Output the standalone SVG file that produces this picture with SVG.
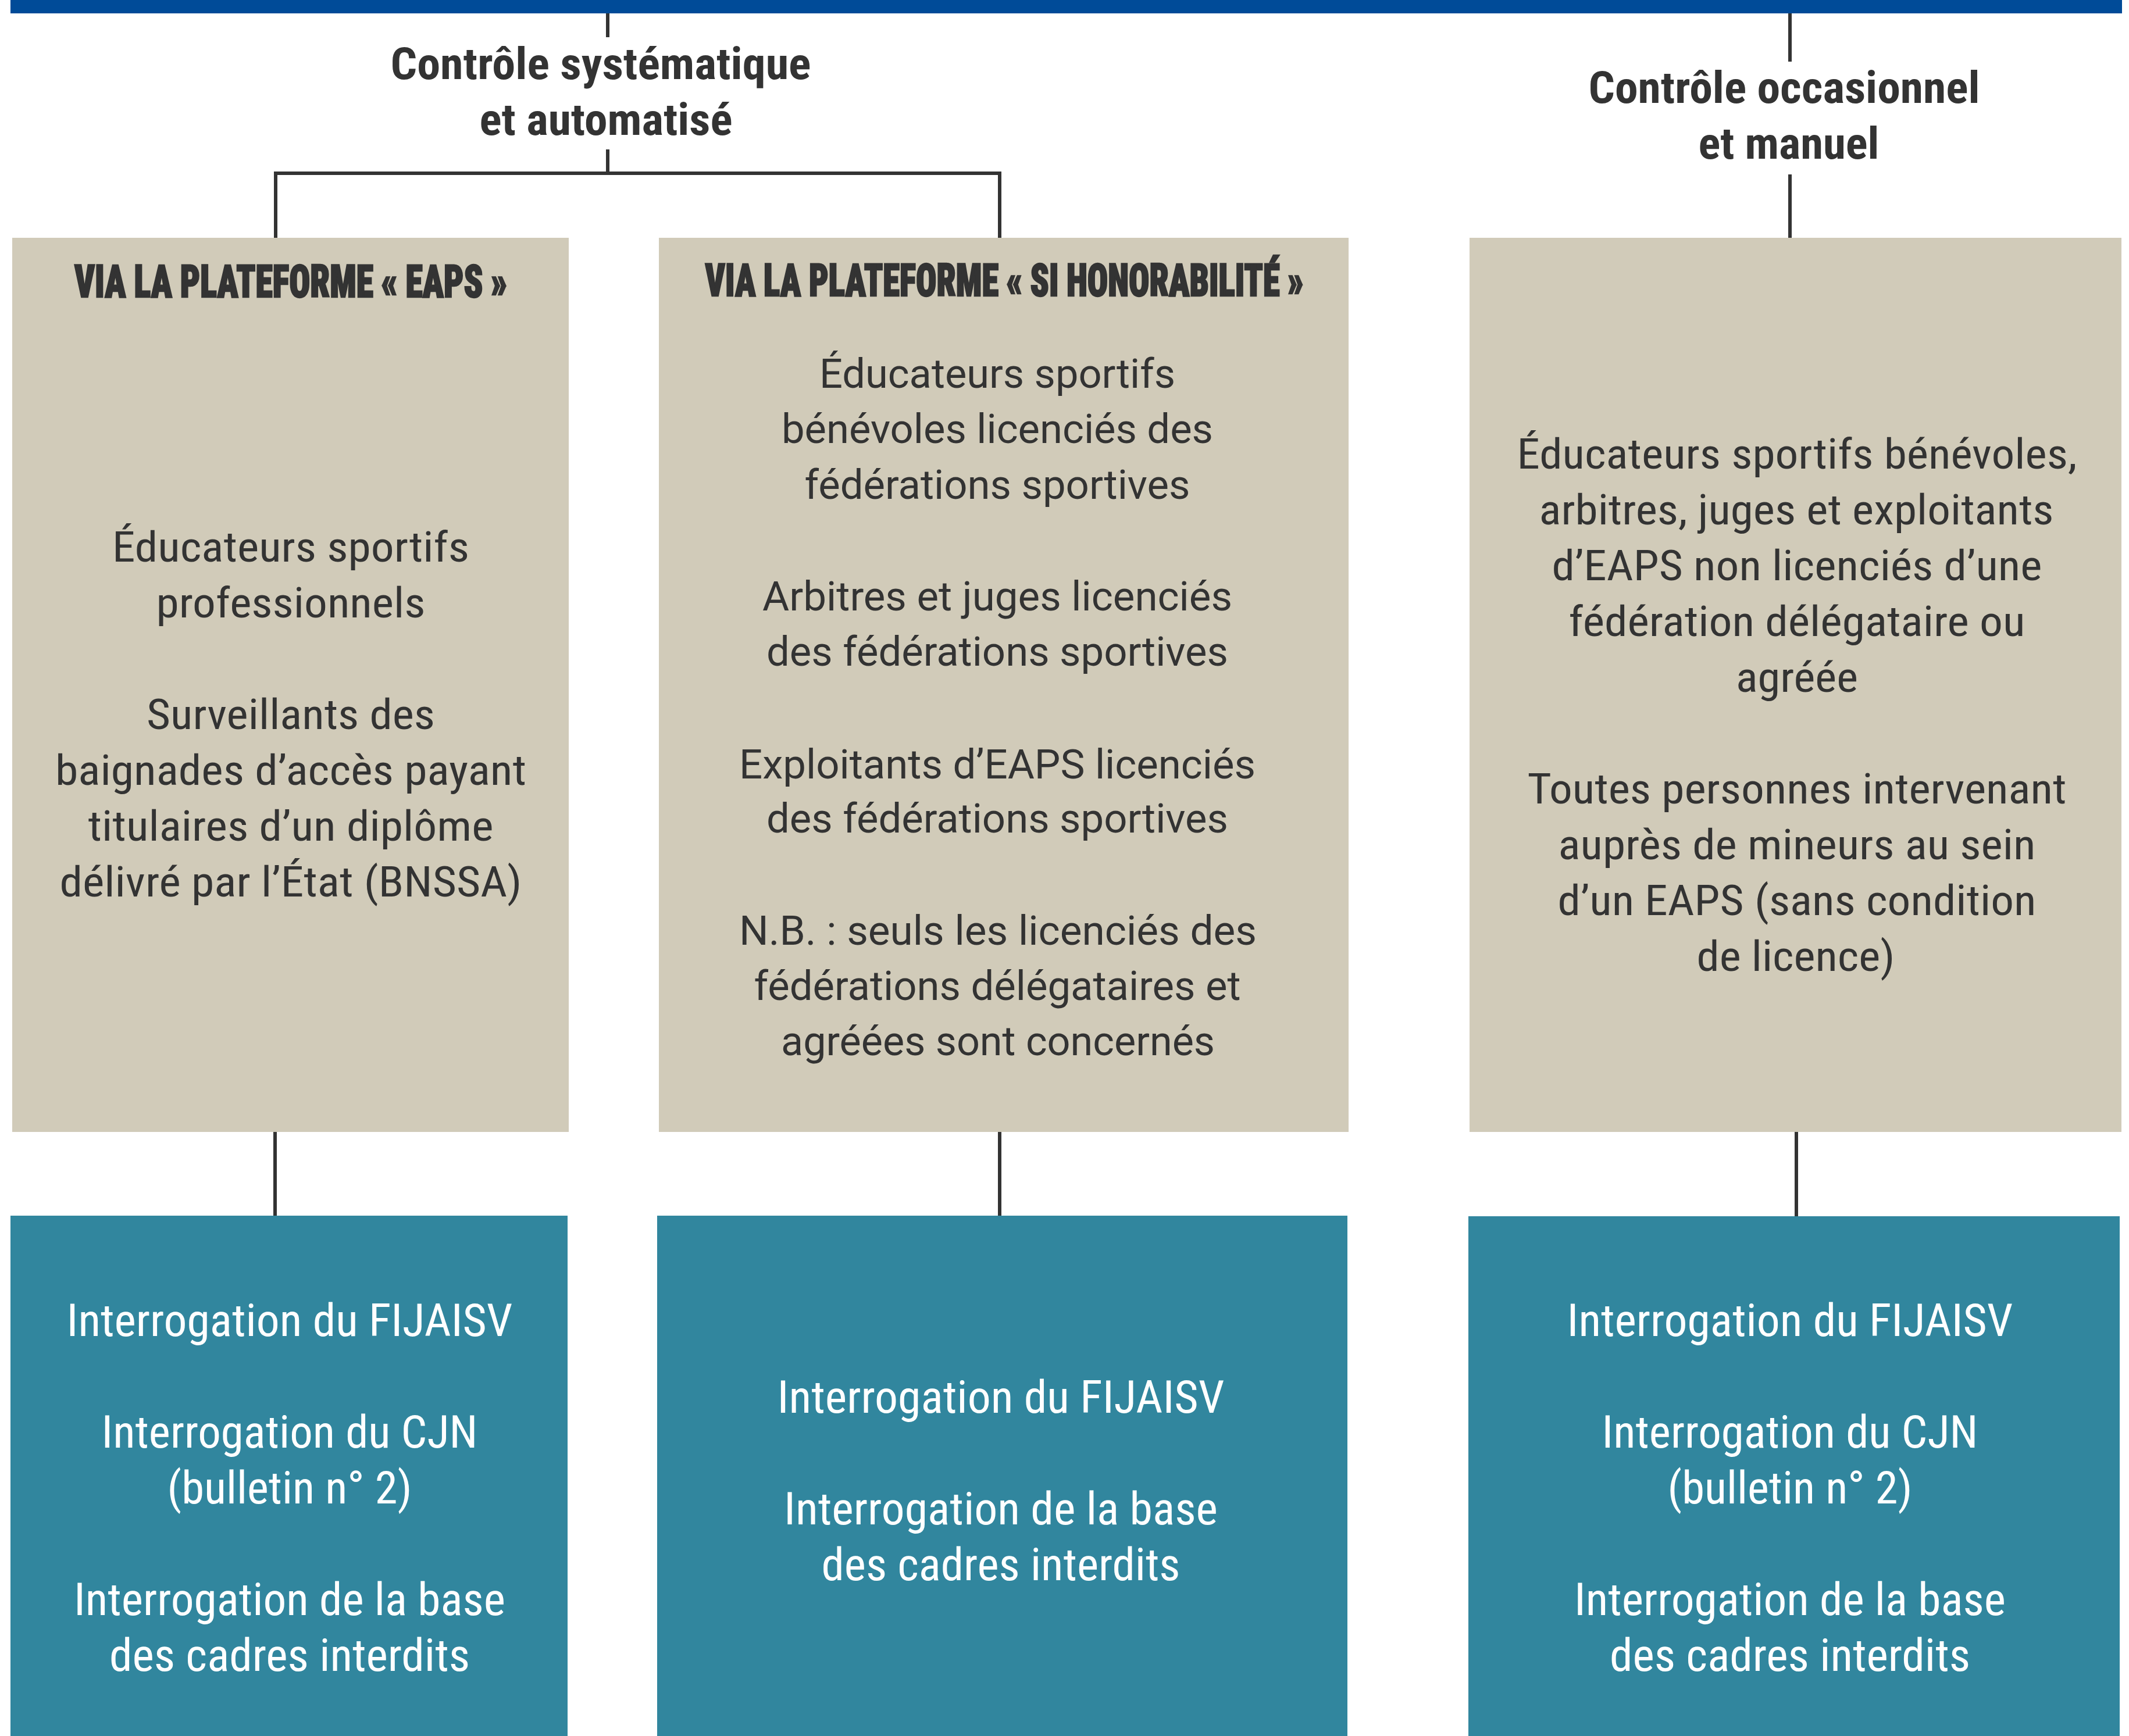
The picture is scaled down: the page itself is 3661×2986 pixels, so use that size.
<svg xmlns="http://www.w3.org/2000/svg" width="3661" height="2986" viewBox="0 0 3661 2986">
<style>
.bg{fill:#ffffff}
.bar{fill:#004B98}
.beige{fill:#D1CBB9}
.teal{fill:#31869E}
.ln{stroke:#333333;stroke-width:6;fill:none;stroke-linecap:butt}
.title{font-family:"Roboto Condensed",Roboto,"Liberation Sans",sans-serif;font-weight:700;font-size:76px;fill:#333333;text-anchor:middle}
.head{font-family:"Roboto Condensed",Roboto,"Liberation Sans",sans-serif;font-weight:900;font-size:77px;fill:#333333;stroke:#333333;stroke-width:2.5;text-anchor:middle}
.body{font-family:"Roboto Condensed",Roboto,"Liberation Sans",sans-serif;font-weight:400;font-size:73px;fill:#333333;text-anchor:middle}
.body2{font-family:Roboto,"Liberation Sans",sans-serif;font-weight:400;font-size:71px;fill:#333333;text-anchor:middle}
.white{font-family:"Roboto Condensed",Roboto,"Liberation Sans",sans-serif;font-weight:400;font-size:77px;fill:#ffffff;text-anchor:middle}
</style>
<rect class="bg" x="0" y="0" width="3661" height="2986"/>
<rect class="bar" x="18" y="0" width="3631" height="23"/>

<g id="connectors">
<line class="ln" x1="1045" y1="23" x2="1045" y2="64"/>
<line class="ln" x1="1045" y1="257" x2="1045" y2="298"/>
<path class="ln" d="M474,409 V298 H1719 V409" stroke-width="7"/>
<line class="ln" x1="3078" y1="23" x2="3078" y2="106"/>
<line class="ln" x1="3078" y1="300" x2="3078" y2="411"/>
<line class="ln" x1="473" y1="1947" x2="473" y2="2092"/>
<line class="ln" x1="1719" y1="1947" x2="1719" y2="2092"/>
<line class="ln" x1="3089" y1="1947" x2="3089" y2="2092"/>
</g>

<g id="title-systematique">
<text class="title" x="1033" y="136" textLength="723" lengthAdjust="spacingAndGlyphs">Contrôle systématique</text>
<text class="title" x="1042" y="232" textLength="435" lengthAdjust="spacingAndGlyphs">et automatisé</text>
</g>

<g id="title-occasionnel">
<text class="title" x="3068" y="177" textLength="673" lengthAdjust="spacingAndGlyphs">Contrôle occasionnel</text>
<text class="title" x="3076" y="273" textLength="311" lengthAdjust="spacingAndGlyphs">et manuel</text>
</g>

<g id="box-eaps">
<rect class="beige" x="21" y="409" width="957" height="1538"/>
<text class="head" x="500" y="511" textLength="744" lengthAdjust="spacingAndGlyphs">VIA LA PLATEFORME « EAPS »</text>
<text class="body" x="500" y="966" textLength="614" lengthAdjust="spacingAndGlyphs">Éducateurs sportifs</text>
<text class="body" x="500" y="1062" textLength="463" lengthAdjust="spacingAndGlyphs">professionnels</text>
<text class="body" x="500" y="1254" textLength="496" lengthAdjust="spacingAndGlyphs">Surveillants des</text>
<text class="body" x="500" y="1350" textLength="810" lengthAdjust="spacingAndGlyphs">baignades d’accès payant</text>
<text class="body" x="500" y="1446" textLength="697" lengthAdjust="spacingAndGlyphs">titulaires d’un diplôme</text>
<text class="body" x="500" y="1542" textLength="795" lengthAdjust="spacingAndGlyphs">délivré par l’État (BNSSA)</text>
</g>

<g id="box-si-honorabilite">
<rect class="beige" x="1133" y="409" width="1186" height="1538"/>
<text class="head" x="1727" y="509" textLength="1029" lengthAdjust="spacingAndGlyphs">VIA LA PLATEFORME « SI HONORABILITÉ »</text>
<text class="body2" x="1715" y="667" textLength="612" lengthAdjust="spacingAndGlyphs">Éducateurs sportifs</text>
<text class="body2" x="1715" y="762" textLength="742" lengthAdjust="spacingAndGlyphs">bénévoles licenciés des</text>
<text class="body2" x="1715" y="858" textLength="663" lengthAdjust="spacingAndGlyphs">fédérations sportives</text>
<text class="body2" x="1715" y="1050" textLength="808" lengthAdjust="spacingAndGlyphs">Arbitres et juges licenciés</text>
<text class="body2" x="1715" y="1145" textLength="794" lengthAdjust="spacingAndGlyphs">des fédérations sportives</text>
<text class="body2" x="1715" y="1339" textLength="888" lengthAdjust="spacingAndGlyphs">Exploitants d’EAPS licenciés</text>
<text class="body2" x="1715" y="1432" textLength="794" lengthAdjust="spacingAndGlyphs">des fédérations sportives</text>
<text class="body2" x="1716" y="1625" textLength="890" lengthAdjust="spacingAndGlyphs">N.B. : seuls les licenciés des</text>
<text class="body2" x="1715" y="1720" textLength="837" lengthAdjust="spacingAndGlyphs">fédérations délégataires et</text>
<text class="body2" x="1716" y="1815" textLength="746" lengthAdjust="spacingAndGlyphs">agréées sont concernés</text>
</g>

<g id="box-occasionnel">
<rect class="beige" x="2527" y="409" width="1121" height="1538"/>
<text class="body" x="3090" y="806" textLength="963" lengthAdjust="spacingAndGlyphs">Éducateurs sportifs bénévoles,</text>
<text class="body" x="3089" y="902" textLength="885" lengthAdjust="spacingAndGlyphs">arbitres, juges et exploitants</text>
<text class="body" x="3090" y="998" textLength="843" lengthAdjust="spacingAndGlyphs">d’EAPS non licenciés d’une</text>
<text class="body" x="3090" y="1094" textLength="785" lengthAdjust="spacingAndGlyphs">fédération délégataire ou</text>
<text class="body" x="3090" y="1190" textLength="210" lengthAdjust="spacingAndGlyphs">agréée</text>
<text class="body" x="3090" y="1382" textLength="927" lengthAdjust="spacingAndGlyphs">Toutes personnes intervenant</text>
<text class="body" x="3090" y="1478" textLength="821" lengthAdjust="spacingAndGlyphs">auprès de mineurs au sein</text>
<text class="body" x="3090" y="1574" textLength="823" lengthAdjust="spacingAndGlyphs">d’un EAPS (sans condition</text>
<text class="body" x="3088" y="1670" textLength="341" lengthAdjust="spacingAndGlyphs">de licence)</text>
</g>

<g id="result-eaps">
<rect class="teal" x="18" y="2091" width="958" height="895"/>
<text class="white" x="498" y="2298" textLength="767" lengthAdjust="spacingAndGlyphs">Interrogation du FIJAISV</text>
<text class="white" x="498" y="2490" textLength="647" lengthAdjust="spacingAndGlyphs">Interrogation du CJN</text>
<text class="white" x="498" y="2586" textLength="421" lengthAdjust="spacingAndGlyphs">(bulletin n° 2)</text>
<text class="white" x="498" y="2778" textLength="742" lengthAdjust="spacingAndGlyphs">Interrogation de la base</text>
<text class="white" x="498" y="2874" textLength="620" lengthAdjust="spacingAndGlyphs">des cadres interdits</text>
</g>

<g id="result-si-honorabilite">
<rect class="teal" x="1130" y="2091" width="1187" height="895"/>
<text class="white" x="1721" y="2430" textLength="769" lengthAdjust="spacingAndGlyphs">Interrogation du FIJAISV</text>
<text class="white" x="1721" y="2622" textLength="746" lengthAdjust="spacingAndGlyphs">Interrogation de la base</text>
<text class="white" x="1721" y="2718" textLength="617" lengthAdjust="spacingAndGlyphs">des cadres interdits</text>
</g>

<g id="result-occasionnel">
<rect class="teal" x="2525" y="2092" width="1120" height="894"/>
<text class="white" x="3078" y="2298" textLength="767" lengthAdjust="spacingAndGlyphs">Interrogation du FIJAISV</text>
<text class="white" x="3078" y="2490" textLength="647" lengthAdjust="spacingAndGlyphs">Interrogation du CJN</text>
<text class="white" x="3078" y="2586" textLength="421" lengthAdjust="spacingAndGlyphs">(bulletin n° 2)</text>
<text class="white" x="3078" y="2778" textLength="742" lengthAdjust="spacingAndGlyphs">Interrogation de la base</text>
<text class="white" x="3078" y="2874" textLength="620" lengthAdjust="spacingAndGlyphs">des cadres interdits</text>
</g>
</svg>
